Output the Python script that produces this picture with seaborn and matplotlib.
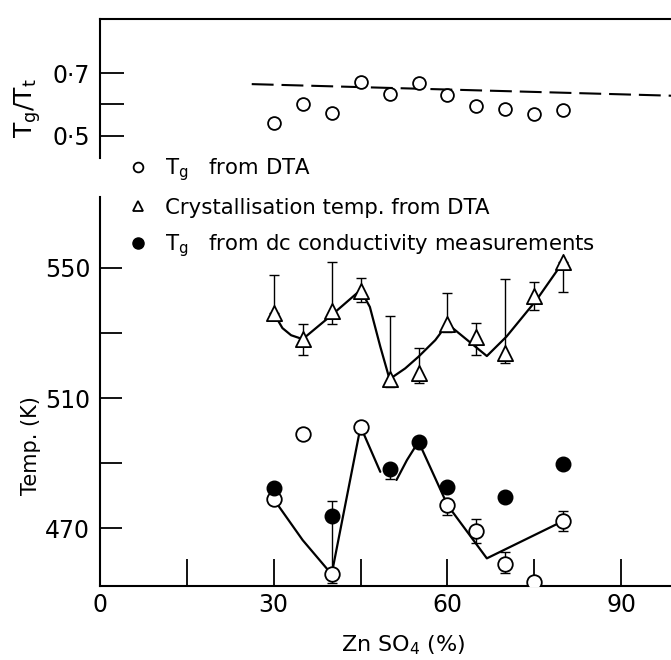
import matplotlib
matplotlib.use("Agg")
import matplotlib.pyplot as plt
import seaborn as sns
import pandas as pd
from matplotlib.lines import Line2D

# ---------------- data ----------------
comp = [30, 35, 40, 45, 50, 55, 60, 65, 70, 75, 80]          # ZnSO4 (%)

# top panel: Tg/Tt ratio
ratio = [0.542, 0.601, 0.574, 0.673, 0.634, 0.670, 0.631, 0.596, 0.586, 0.570, 0.581]
ratio_fit_x = [26.2, 98.6]
ratio_fit = [0.665, 0.628]

# crystallisation temperature from DTA (triangles)
tc = [536.1, 528.1, 536.9, 543.0, 515.8, 517.8, 532.8, 528.7, 523.7, 541.4, 551.9]
tc_hi = [547.8, 532.7, 551.9, 546.8, 535.2, 525.3, 542.2, 533.2, 546.5, 545.8, 551.9]
tc_lo = [536.1, 523.2, 532.7, 539.6, 513.5, 514.5, 530.2, 523.2, 520.9, 537.0, 542.7]
tc_fit_x = [30, 31.5, 33, 35, 40, 45, 46.6, 48.4, 50, 52.7, 55, 57.9, 60, 66.8, 70.2, 75.4, 80]
tc_fit = [536.1, 531.5, 529.3, 528.1, 535.5, 543.2, 538.0, 525.8, 515.8, 519.1, 522.7, 527.8,
          532.8, 522.9, 528.9, 540.2, 551.9]

# Tg from DTA (open circles)
tg_x = [30, 35, 40, 45, 60, 65, 70, 80, 75]
tg = [478.9, 498.9, 455.8, 501.2, 477.1, 469.1, 459.1, 472.2, 453.5]
tg_err_x = [40, 60, 65, 70, 80]
tg_err_mid = [455.8, 477.1, 469.1, 459.1, 472.2]
tg_err_lo = [453.0, 474.0, 465.5, 456.3, 469.1]
tg_err_hi = [455.8, 477.1, 472.7, 462.7, 475.3]
tg_fit1_x = [30, 35, 40, 45, 48.4]
tg_fit1 = [478.9, 466.3, 455.8, 501.2, 487.3]
tg_fit2_x = [51.2, 53.0, 55, 60, 66.8, 80]
tg_fit2 = [484.8, 490.9, 496.6, 477.1, 460.7, 472.2]

# Tg from dc conductivity (filled circles)
dc_x = [30, 40, 50, 55, 60, 70, 80]
dc = [482.4, 473.7, 488.2, 496.6, 482.5, 479.6, 489.6]
dc_err_x = [40, 50]
dc_err_mid = [473.7, 488.2]
dc_err_lo = [456.0, 485.0]
dc_err_hi = [478.3, 488.2]

# ticks / labels
xticks = [0, 15, 30, 45, 60, 75, 90]
xticklabels = ["0", "", "30", "", "60", "", "90"]
yticks = [470, 490, 510, 530, 550]
yticklabels = ["470", "", "510", "", "550"]
rticks = [0.5, 0.6, 0.7]
rticklabels = ["0·5", "", "0·7"]
legend_labels = ["T$_\\mathrm{g}$   from DTA",
                 "Crystallisation temp. from DTA",
                 "T$_\\mathrm{g}$   from dc conductivity measurements"]

# ---------------- style ----------------
sns.set_style("white")
K = "black"
plt.rcParams["font.family"] = ["DejaVu Sans"]
plt.rcParams["mathtext.default"] = "regular"
plt.rcParams["axes.linewidth"] = 1.5
for key in ["text.color", "axes.labelcolor", "xtick.color", "ytick.color", "axes.edgecolor"]:
    plt.rcParams[key] = K

W, H = 671, 660
fig = plt.figure(figsize=(W / 100, H / 100), dpi=100)
ax_top = fig.add_axes([100 / W, 502 / H, 571 / W, 139 / H])
ax = fig.add_axes([100 / W, 74 / H, 571 / W, 389 / H])

# ---------------- top panel ----------------
sns.lineplot(x=ratio_fit_x, y=ratio_fit, ax=ax_top, color=K, lw=1.5,
             linestyle=(0, (10.5, 3.8)), sort=False)
sns.scatterplot(x=comp, y=ratio, ax=ax_top, marker="o", s=85, facecolor="white",
                edgecolor=K, linewidth=1.3, zorder=3)
ax_top.set_xlim(0, 98.6)
ax_top.set_ylim(0.429, 0.873)
ax_top.set_xticks([])
ax_top.set_yticks(rticks)
ax_top.set_yticklabels(rticklabels)
ax_top.tick_params(axis="y", direction="in", length=17, width=1.3, labelsize=17, pad=7,
                   left=True, color=K, labelcolor=K)
for s in ["right", "bottom"]:
    ax_top.spines[s].set_visible(False)
ax_top.spines["top"].set_visible(True)
ax_top.set_ylabel("T$_\\mathrm{g}$/T$_\\mathrm{t}$", fontsize=18, color=K)
ax_top.yaxis.set_label_coords(-0.1, 0.36)

# ---------------- lower panel ----------------
# fitted guide curves
sns.lineplot(x=tc_fit_x, y=tc_fit, ax=ax, color=K, lw=1.6, sort=False)
sns.lineplot(x=tg_fit1_x, y=tg_fit1, ax=ax, color=K, lw=1.6, sort=False)
sns.lineplot(x=tg_fit2_x, y=tg_fit2, ax=ax, color=K, lw=1.6, sort=False)

# error bars
def add_err(xs, mids, los, his):
    lo = [m - l for m, l in zip(mids, los)]
    hi = [h - m for m, h in zip(mids, his)]
    ax.errorbar(xs, mids, yerr=[lo, hi], fmt="none", ecolor=K, elinewidth=1.0,
                capsize=3.5, capthick=1.0, zorder=2)

add_err(comp, tc, tc_lo, tc_hi)
add_err(tg_err_x, tg_err_mid, tg_err_lo, tg_err_hi)
add_err(dc_err_x, dc_err_mid, dc_err_lo, dc_err_hi)

sns.scatterplot(x=comp, y=tc, ax=ax, marker="^", s=120, facecolor="white",
                edgecolor=K, linewidth=1.3, zorder=4)
sns.scatterplot(x=tg_x, y=tg, ax=ax, marker="o", s=110, facecolor="white",
                edgecolor=K, linewidth=1.3, zorder=4)
sns.scatterplot(x=dc_x, y=dc, ax=ax, marker="o", s=110, facecolor=K,
                edgecolor=K, linewidth=1.0, zorder=5)

ax.set_xlim(0, 98.6)
ax.set_ylim(452.2, 571.8)
ax.set_xticks(xticks)
ax.set_xticklabels(xticklabels)
ax.set_yticks(yticks)
ax.set_yticklabels(yticklabels)
ax.tick_params(axis="y", direction="in", length=16, width=1.3, labelsize=17, pad=7, left=True,
               color=K, labelcolor=K)
ax.tick_params(axis="x", direction="in", length=19.5, width=1.3, labelsize=17, pad=5, bottom=True,
               color=K, labelcolor=K)
for s in ["right", "top"]:
    ax.spines[s].set_visible(False)
ax.set_ylabel("Temp. (K)", fontsize=15, color=K)
ax.yaxis.set_label_coords(-0.103, 0.362)
ax.set_xlabel("Zn SO$_4$ (%)", fontsize=16, color=K)
ax.xaxis.set_label_coords(0.531, -0.121)

# legend
handles = [
    Line2D([], [], ls="none", marker="o", ms=7, mfc="white", mec=K, mew=1.3),
    Line2D([], [], ls="none", marker="^", ms=7, mfc="white", mec=K, mew=1.3),
    Line2D([], [], ls="none", marker="o", ms=8, mfc=K, mec=K),
]
leg = fig.legend(handles, legend_labels, loc="upper left",
                 bbox_to_anchor=(127 / W, (660 - 156) / H),
                 frameon=False, fontsize=15.3, handlelength=1.0, handletextpad=0.8,
                 labelspacing=0.7, borderpad=0, borderaxespad=0, labelcolor=K)

fig.savefig("out.png", dpi=100, facecolor="white")
